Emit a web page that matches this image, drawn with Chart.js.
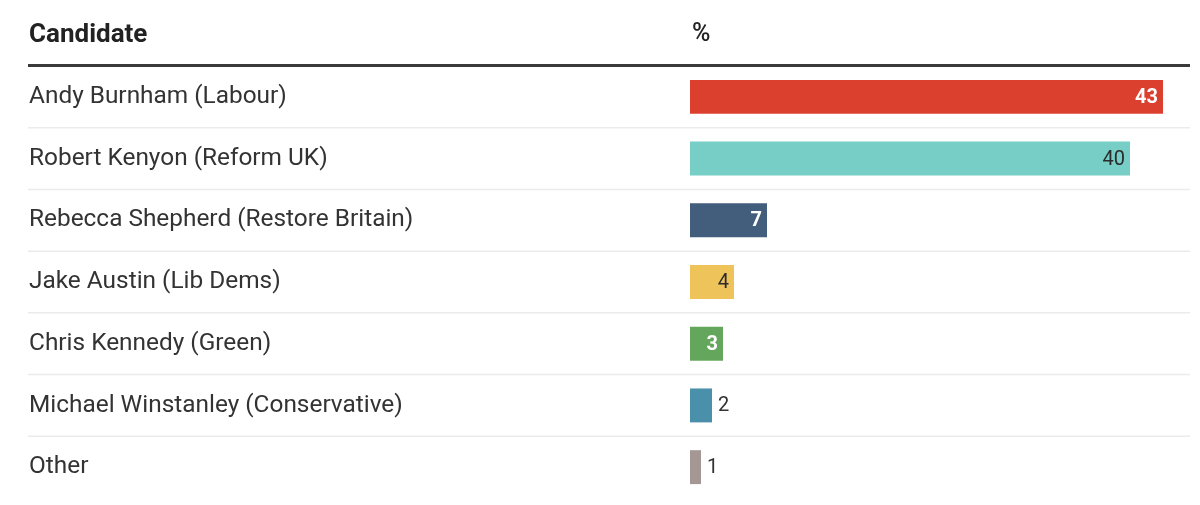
<!DOCTYPE html>
<html>
<head>
<meta charset="utf-8">
<script src="https://cdn.jsdelivr.net/npm/chart.js@4/dist/chart.umd.min.js"></script>
<style>
  html, body { margin: 0; padding: 0; background: #fff; overflow: hidden; }
  #wrap { width: 1200px; height: 505px; position: relative; }
</style>
</head>
<body>
<div id="wrap"><canvas id="chart"></canvas></div>
<script>
// data
let candidates = [
    'Andy Burnham (Labour)',
    'Robert Kenyon (Reform UK)',
    'Rebecca Shepherd (Restore Britain)',
    'Jake Austin (Lib Dems)',
    'Chris Kennedy (Green)',
    'Michael Winstanley (Conservative)',
    'Other'
];
let shares = [43, 40, 7, 4, 3, 2, 1];
let partyColours = ['#db3f2e', '#77cec6', '#435d7d', '#eec45a', '#64a75c', '#4b90aa', '#a49794'];
let labelColours = ['#fff', '#2b2b2b', '#fff', '#2b2b2b', '#fff', '#333', '#333'];
let headers = ['Candidate', '%'];

const FONT = 'Roboto, "Noto Sans", sans-serif';

// header row + row separators, drawn across the whole width
let tablePlugin = {
    id: 'table',
    beforeDatasetsDraw(chart) {
        let ctx = chart.ctx, y = chart.scales.y, area = chart.chartArea;
        ctx.save();
        ctx.strokeStyle = '#ebebeb';
        ctx.lineWidth = 1.5;
        for (let i = 0; i < candidates.length - 1; i++) {
            let yy = (y.getPixelForValue(i) + y.getPixelForValue(i + 1)) / 2;
            ctx.beginPath();
            ctx.moveTo(28, yy);
            ctx.lineTo(area.right, yy);
            ctx.stroke();
        }
        ctx.restore();
    },
    afterDraw(chart) {
        let ctx = chart.ctx, area = chart.chartArea;
        ctx.save();
        ctx.fillStyle = '#222';
        ctx.textBaseline = 'middle';
        ctx.font = 'bold 26px ' + FONT;
        ctx.fillText(headers[0], 29, 35);
        ctx.font = '500 25px ' + FONT;
        ctx.fillText(headers[1], area.left + 2, 35);
        ctx.strokeStyle = '#3a3a3a';
        ctx.lineWidth = 3;
        ctx.beginPath();
        ctx.moveTo(28, area.top - 0.5);
        ctx.lineTo(area.right, area.top - 0.5);
        ctx.stroke();
        ctx.restore();
    }
};

// value labels: inside the bar end when it fits, just outside otherwise
let valuePlugin = {
    id: 'values',
    afterDatasetsDraw(chart) {
        let ctx = chart.ctx;
        let meta = chart.getDatasetMeta(0);
        ctx.save();
        ctx.textBaseline = 'middle';
        meta.data.forEach((bar, i) => {
            let txt = String(shares[i]);
            let bold = labelColours[i] === '#fff';
            ctx.font = (bold ? 'bold ' : '') + '20px ' + FONT;
            let w = ctx.measureText(txt).width;
            let width = bar.x - bar.base;
            ctx.fillStyle = labelColours[i];
            if (width > w + 12) {
                ctx.textAlign = 'right';
                ctx.fillText(txt, bar.x - 5, bar.y + 1);
            } else {
                ctx.textAlign = 'left';
                ctx.fillText(txt, bar.x + 6, bar.y + 1);
            }
        });
        ctx.restore();
    }
};

new Chart(document.getElementById('chart').getContext('2d'), {
    type: 'bar',
    data: {
        labels: candidates,
        datasets: [{
            data: shares,
            backgroundColor: partyColours,
            borderWidth: 0,
            categoryPercentage: 1,
            barPercentage: 0.55
        }]
    },
    options: {
        indexAxis: 'y',
        responsive: true,
        maintainAspectRatio: false,
        animation: false,
        events: [],
        layout: { padding: { left: 29, right: 10, top: 66, bottom: 7 } },
        plugins: { legend: { display: false }, tooltip: { enabled: false } },
        scales: {
            x: {
                min: 0,
                max: 500 / 11,
                display: false
            },
            y: {
                grid: { display: false },
                border: { display: false },
                afterFit(scale) {
                    scale.width = 661;
                    scale.paddingTop = 0;
                    scale.paddingBottom = 0;
                },
                ticks: {
                    crossAlign: 'far',
                    padding: 0,
                    color: '#333',
                    font: { family: FONT, size: 24.4 }
                }
            }
        }
    },
    plugins: [tablePlugin, valuePlugin]
});
</script>
</body>
</html>
